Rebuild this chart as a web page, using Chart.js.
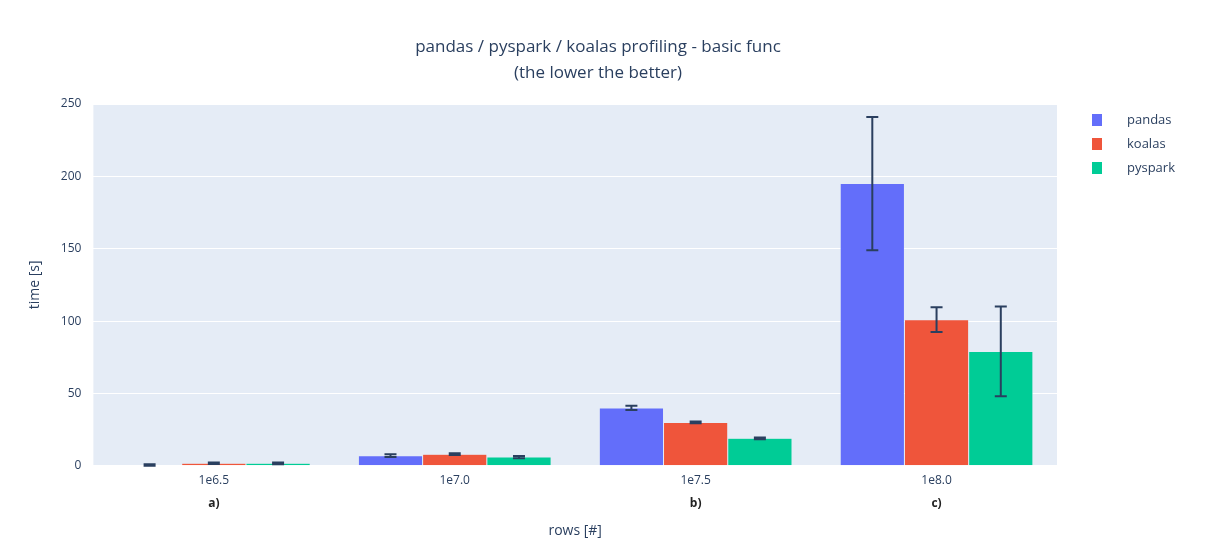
<!DOCTYPE html>
<html>
<head>
<meta charset="utf-8">
<script src="https://cdn.jsdelivr.net/npm/chart.js@4/dist/chart.umd.min.js"></script>
<style>
  html, body { margin: 0; padding: 0; background: #fff; }
  #wrap { width: 1214px; height: 544px; }
</style>
</head>
<body>
<div id="wrap"><canvas id="profChart"></canvas></div>
<script>
// categories (rows, log10) and the little letters under them
const categories = ['1e6.5', '1e7.0', '1e7.5', '1e8.0'];
const subLabels = ['a)', '', 'b)', 'c)'];

// mean times in seconds
const pandasTime = [0.4, 7, 40, 195];
const koalasTime = [1.8, 8, 30, 101];
const pysparkTime = [1.7, 6, 19, 79];

// error (+/-) in seconds
const pandasErr = [0.6, 1, 1.5, 46];
const koalasErr = [0.5, 0.6, 0.6, 8.5];
const pysparkErr = [0.6, 0.7, 0.6, 31];

const yTicks = [0, 50, 100, 150, 200, 250];
const titleLines = ['pandas / pyspark / koalas profiling - basic func', '(the lower the better)'];

const textColor = '#2a3f5f';
const fontFam = '"Open Sans", "DejaVu Sans", sans-serif';

// plot background like plotly
const plotBg = {
    id: 'plotBg',
    beforeDraw(chart) {
        const a = chart.chartArea, c = chart.ctx;
        c.save();
        c.fillStyle = '#E5ECF6';
        c.fillRect(a.left, a.top, a.right - a.left, a.bottom - a.top);
        c.restore();
    }
};

// error bars drawn from the y scale
const errorBars = {
    id: 'errorBars',
    afterDatasetsDraw(chart) {
        const c = chart.ctx, y = chart.scales.y;
        chart.data.datasets.forEach(function(ds, i) {
            const meta = chart.getDatasetMeta(i);
            meta.data.forEach(function(bar, j) {
                const v = ds.data[j], e = ds.errors[j];
                const yTop = y.getPixelForValue(v + e);
                const yBot = y.getPixelForValue(Math.max(v - e, 0));
                c.save();
                c.strokeStyle = textColor;
                c.lineWidth = 2;
                c.beginPath();
                c.moveTo(bar.x, yTop); c.lineTo(bar.x, yBot);
                c.moveTo(bar.x - 6, yTop); c.lineTo(bar.x + 6, yTop);
                c.moveTo(bar.x - 6, yBot); c.lineTo(bar.x + 6, yBot);
                c.stroke();
                c.restore();
            });
        });
    }
};

// title, a) b) c) under the tick labels, and the legend on the right
const extras = {
    id: 'extras',
    afterDraw(chart) {
        const c = chart.ctx, a = chart.chartArea, x = chart.scales.x;
        c.save();
        c.textBaseline = 'middle';
        c.textAlign = 'center';

        c.fillStyle = textColor;
        c.font = '17px ' + fontFam;
        c.fillText(titleLines[0], 598, 47);
        c.fillText(titleLines[1], 598, 73);

        c.fillStyle = '#222';
        c.font = 'bold 12px ' + fontFam;
        subLabels.forEach(function(s, i) {
            if (s) c.fillText(s, x.getPixelForTick(i), a.bottom + 38);
        });

        c.font = '13px ' + fontFam;
        c.textAlign = 'left';
        chart.data.datasets.forEach(function(ds, i) {
            const cy = a.top + 16 + i * 24;
            c.fillStyle = ds.backgroundColor;
            c.fillRect(a.right + 35, cy - 6, 10, 12);
            c.fillStyle = textColor;
            c.fillText(ds.label, a.right + 70, cy);
        });
        c.restore();
    }
};

const ctx = document.getElementById('profChart').getContext('2d');
new Chart(ctx, {
    type: 'bar',
    data: {
        labels: categories,
        datasets: [
            { label: 'pandas', data: pandasTime, errors: pandasErr, backgroundColor: '#636efa' },
            { label: 'koalas', data: koalasTime, errors: koalasErr, backgroundColor: '#EF553B' },
            { label: 'pyspark', data: pysparkTime, errors: pysparkErr, backgroundColor: '#00cc96' }
        ]
    },
    options: {
        responsive: true,
        maintainAspectRatio: false,
        animation: false,
        datasets: {
            bar: {
                categoryPercentage: 0.8,
                barPercentage: 1.0,
                borderWidth: 0.5,
                borderColor: '#E5ECF6'
            }
        },
        layout: { padding: { left: 27, right: 157, top: 104, bottom: 5 } },
        scales: {
            x: {
                grid: { display: false },
                border: { display: false },
                ticks: { color: textColor, font: { family: fontFam, size: 12 }, padding: 0 },
                title: { display: true, text: 'rows [#]', color: textColor,
                         font: { family: fontFam, size: 14 }, padding: { top: 34, bottom: 0 } }
            },
            y: {
                min: 0,
                max: 250,
                afterBuildTicks(scale) { scale.ticks = yTicks.map(function(v) { return { value: v }; }); },
                grid: { color: '#ffffff', lineWidth: 1, drawTicks: false },
                border: { display: false },
                ticks: { color: textColor, font: { family: fontFam, size: 12 }, padding: 12 },
                title: { display: true, text: 'time [s]', color: textColor,
                         font: { family: fontFam, size: 14 }, padding: { top: 0, bottom: 5 } }
            }
        },
        plugins: {
            legend: { display: false },
            tooltip: { enabled: false },
            title: { display: false }
        }
    },
    plugins: [plotBg, errorBars, extras]
});
</script>
</body>
</html>
